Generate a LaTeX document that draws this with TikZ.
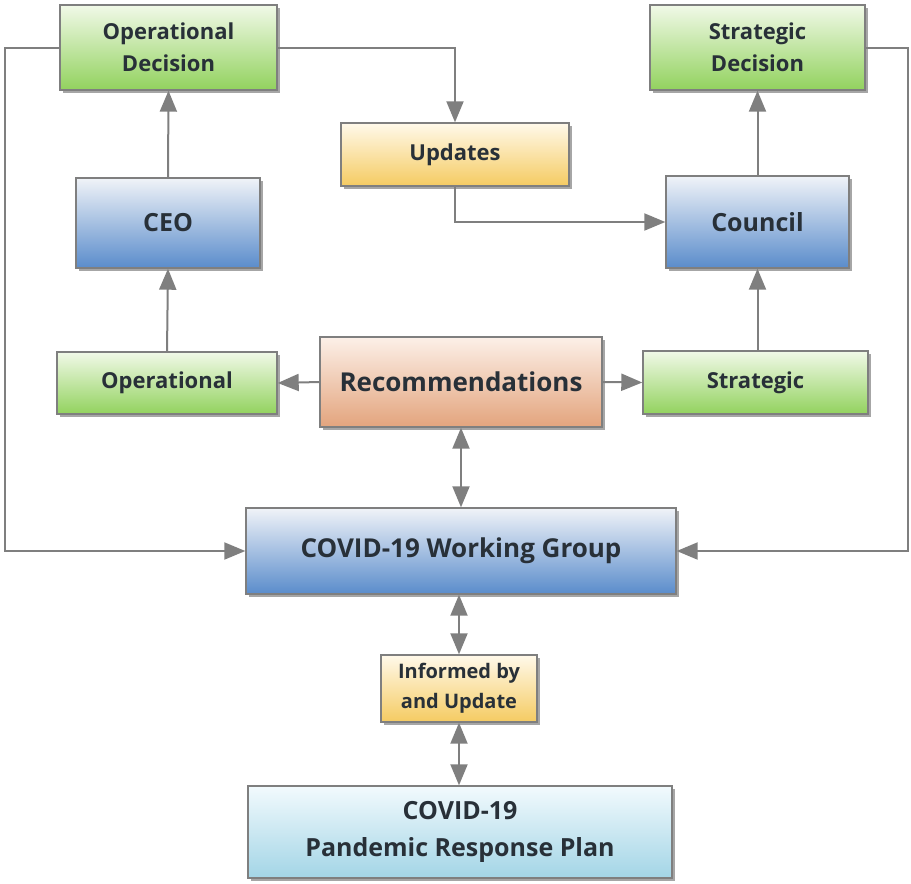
\documentclass[tikz,border=0pt]{standalone}
\usepackage{fontspec}
\setmainfont{Open Sans}
\usetikzlibrary{arrows.meta,shadows,calc}
\definecolor{edge}{HTML}{7F7F7F}
\definecolor{txt}{HTML}{283038}
\definecolor{gtop}{HTML}{F1F9E8}\definecolor{gbot}{HTML}{92D25E}
\definecolor{btop}{HTML}{F0F3F8}\definecolor{bbot}{HTML}{5A8CCB}
\definecolor{otop}{HTML}{FCF0E8}\definecolor{obot}{HTML}{E3A47D}
\definecolor{ytop}{HTML}{FFF9EA}\definecolor{ybot}{HTML}{F5CB62}
\definecolor{ctop}{HTML}{F2FAFD}\definecolor{cbot}{HTML}{A3D5E6}
\tikzset{
  x=1pt,y=-1pt,
  boxbase/.style={draw=edge,line width=1.4pt,inner sep=0pt,align=center,
    text=txt,font=\bfseries\fontsize{22}{32}\selectfont,
    drop shadow={shadow xshift=3pt,shadow yshift=-3pt,fill=black,opacity=0.35}},
  gbox/.style={boxbase,top color=gtop,bottom color=gbot},
  bbox/.style={boxbase,top color=btop,bottom color=bbot},
  obox/.style={boxbase,top color=otop,bottom color=obot},
  ybox/.style={boxbase,top color=ytop,bottom color=ybot},
  cbox/.style={boxbase,top color=ctop,bottom color=cbot},
  conn/.style={draw=edge,line width=2pt,-{Triangle[length=21pt,width=17pt]}},
  conn2/.style={draw=edge,line width=2pt,{Triangle[length=21pt,width=17pt]}-{Triangle[length=21pt,width=17pt]}}
}
\begin{document}
\begin{tikzpicture}
\useasboundingbox (0,0) rectangle (911,884);
\node[gbox,minimum width=217pt,minimum height=85pt] (opd) at (168.5,47.5) {Operational\\Decision};
\node[gbox,minimum width=215pt,minimum height=85pt] (std) at (757.5,47.5) {Strategic\\Decision};
\node[ybox,minimum width=228pt,minimum height=63pt] (upd) at (455,154.5) {Updates};
\node[bbox,minimum width=184pt,minimum height=90pt,font=\bfseries\fontsize{25}{30}\selectfont] (ceo) at (168,223) {CEO};
\node[bbox,minimum width=183pt,minimum height=92pt,font=\bfseries\fontsize{25}{30}\selectfont] (cou) at (757.5,222) {Council};
\node[gbox,minimum width=220pt,minimum height=62pt] (op) at (167,383) {Operational};
\node[obox,minimum width=282pt,minimum height=90pt,font=\bfseries\fontsize{26}{30}\selectfont] (rec) at (461,382) {Recommendations};
\node[gbox,minimum width=225pt,minimum height=63pt] (st) at (755.5,382.5) {Strategic};
\node[bbox,minimum width=430pt,minimum height=86pt,font=\bfseries\fontsize{26}{30}\selectfont] (wg) at (461,551) {COVID-19 Working Group};
\node[ybox,minimum width=156pt,minimum height=67pt,font=\bfseries\fontsize{20}{30}\selectfont] (inf) at (459,688.5) {Informed by\\and Update};
\node[cbox,minimum width=424pt,minimum height=92pt,font=\bfseries\fontsize{25}{37}\selectfont] (plan) at (460,832) {COVID-19\\Pandemic Response Plan};

\coordinate (tl) at (5,47.5);
\coordinate (bl) at (5,551);
\coordinate (tr) at (908,47.5);
\coordinate (br) at (908,551);

\draw[conn] (opd.east) -| (upd.north);
\draw[conn] (upd.south) |- (cou.west);
\draw[conn] (cou.north) -- (std.south);
\draw[conn] (ceo.north) -- (opd.south);
\draw[conn] (op.north) -- (ceo.south);
\draw[conn] (st.north -| cou.south) -- (cou.south);
\draw[conn] (rec.west) -- (op.east);
\draw[conn] (rec.east) -- (st.west);
\draw[conn2] (rec.south) -- (wg.north);
\draw[conn2] (wg.south -| inf.north) -- (inf.north);
\draw[conn2] (inf.south) -- (plan.north -| inf.south);
\draw[conn] (opd.west) -- (tl) -- (bl) -- (wg.west);
\draw[conn] (std.east) -- (tr) -- (br) -- (wg.east);
\end{tikzpicture}
\end{document}
